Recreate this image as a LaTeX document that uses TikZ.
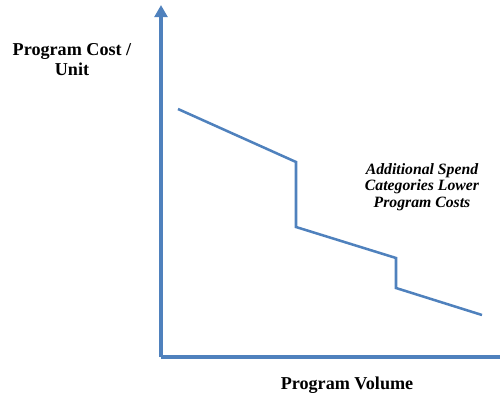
\documentclass[tikz,border=0pt]{standalone}
\usepackage{fontspec}
\setmainfont{Liberation Serif}
\usetikzlibrary{arrows.meta}
\definecolor{axisblue}{RGB}{79,129,189}
\begin{document}
\begin{tikzpicture}[x=0.75pt,y=-0.75pt,
  axis/.style={draw=axisblue,line width=2.6pt},
  cost/.style={draw=axisblue,line width=1.9pt,line join=miter},
  lbl/.style={font=\bfseries\fontsize{13.6}{15}\selectfont,align=center,inner sep=0pt},
  note/.style={font=\bfseries\itshape\fontsize{11.8}{12.5}\selectfont,align=center,inner sep=0pt}]
\useasboundingbox (0,0) rectangle (500,396);

% axes
\coordinate (origin) at (161,357);
\coordinate (ytop)   at (161,5);
\coordinate (xend)   at (500,357);
\draw[axis,-{Triangle[width=9.5pt,length=9pt]}] (origin) -- (ytop);
\draw[axis] (origin) -- (xend);

% cost curve
\draw[cost] (178,109) -- (296,162) -- (296,227) -- (396,258) -- (396,288) -- (482,315);

\node[lbl]  (ylabel) at (72,60)  {Program Cost /\\Unit};
\node[lbl]  (xlabel) at (347,385) {Program Volume};
\node[note] (spend)  at (422,187) {Additional Spend\\Categories Lower\\Program Costs};
\end{tikzpicture}
\end{document}
